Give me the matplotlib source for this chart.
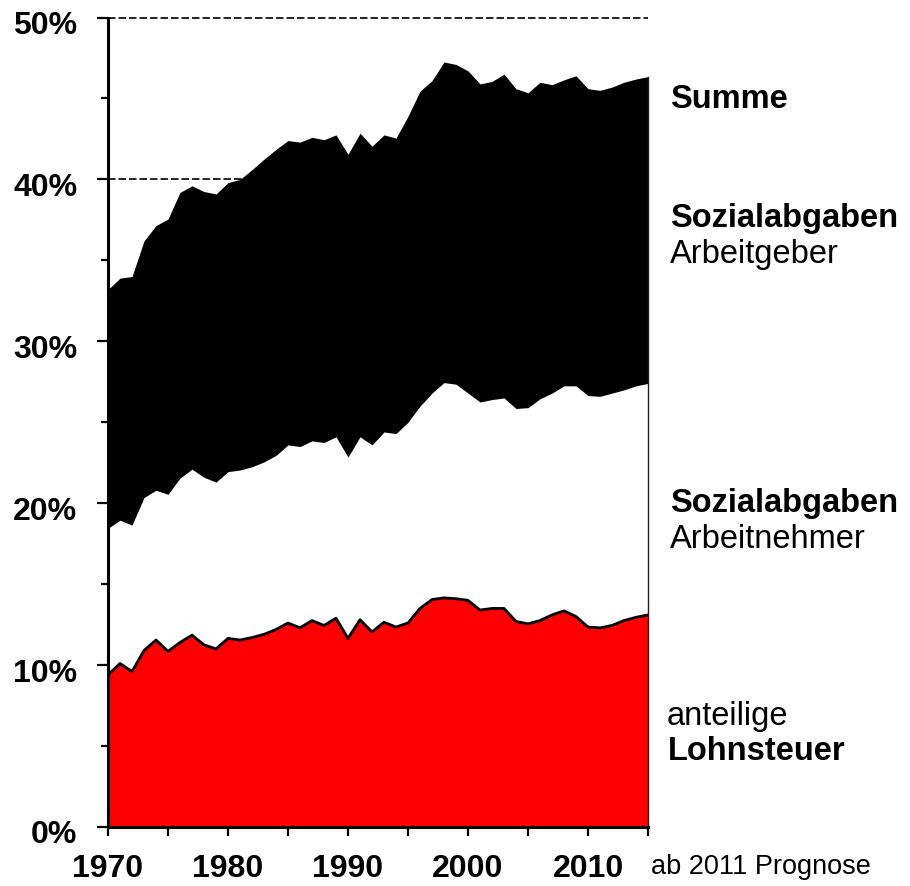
from matplotlib import pyplot as plt
import matplotlib.transforms as mtrans
import numpy as np

plt.rcParams['font.family'] = ['Liberation Sans', 'DejaVu Sans']

# Jahre und Anteile in Prozent (kumuliert, von unten nach oben)
jahre = np.arange(1970, 2016)

lohnsteuer = [9.4, 10.1, 9.6, 10.9, 11.55, 10.85, 11.4, 11.85, 11.25, 11.0,
              11.65, 11.55, 11.7, 11.9, 12.2, 12.6, 12.3, 12.75, 12.45, 12.9,
              11.65, 12.8, 12.05, 12.65, 12.35, 12.6, 13.5, 14.05, 14.15, 14.1,
              14.0, 13.4, 13.5, 13.5, 12.7, 12.55, 12.75, 13.1, 13.35, 13.0,
              12.35, 12.3, 12.45, 12.75, 12.95, 13.1]

bis_arbeitnehmer = [18.45, 18.95, 18.65, 20.35, 20.8, 20.55, 21.55, 22.1, 21.6, 21.3,
                    21.95, 22.05, 22.25, 22.55, 22.95, 23.6, 23.5, 23.85, 23.75, 24.1,
                    22.85, 24.1, 23.6, 24.4, 24.3, 25.0, 26.0, 26.8, 27.45, 27.35,
                    26.8, 26.25, 26.4, 26.5, 25.85, 25.9, 26.45, 26.8, 27.25, 27.25,
                    26.65, 26.6, 26.8, 27.0, 27.25, 27.4]

summe = [33.2, 33.9, 34.0, 36.2, 37.15, 37.55, 39.2, 39.6, 39.25, 39.1,
         39.8, 40.0, 40.6, 41.25, 41.85, 42.4, 42.3, 42.6, 42.45, 42.75,
         41.55, 42.85, 42.05, 42.75, 42.55, 43.9, 45.45, 46.1, 47.25, 47.1,
         46.7, 45.9, 46.05, 46.5, 45.6, 45.35, 46.0, 45.85, 46.15, 46.4,
         45.6, 45.5, 45.7, 46.0, 46.2, 46.35]

y_ticks = [0, 10, 20, 30, 40, 50]
x_labels = ['1970', '1980', '1990', '2000', '2010']

W, H = 910, 887
fig = plt.figure(figsize=(W / 100, H / 100), dpi=100)
ax = fig.add_axes([108 / W, 1 - 828 / H, 540 / W, (828 - 18.5) / H])

# Flaechen
ax.fill_between(jahre, 0, lohnsteuer, color='#ff0000', lw=0, zorder=1)
ax.fill_between(jahre, lohnsteuer, bis_arbeitnehmer, color='white', lw=0, zorder=1)
ax.fill_between(jahre, bis_arbeitnehmer, summe, color='black', lw=0, zorder=1)
ax.plot(jahre, lohnsteuer, color='black', lw=2.0, zorder=2)
ax.plot([jahre[-1], jahre[-1]], [0, summe[-1]], color='#222222', lw=1.0,
        zorder=2, clip_on=False)

# gestrichelte Hilfslinien hinter den Flaechen
for v in y_ticks[1:]:
    ax.axhline(v, color='black', lw=1.2, ls=(0, (4.5, 1.8)), zorder=0.5,
               clip_on=False)

ax.set_xlim(1970, 2015)
ax.set_ylim(0, 50)

for s in ['top', 'right']:
    ax.spines[s].set_visible(False)
for s in ['left', 'bottom']:
    ax.spines[s].set_linewidth(2.2)
    ax.spines[s].set_zorder(3)

ax.set_yticks(y_ticks)
ax.set_yticklabels([f'{v}%' for v in y_ticks], fontsize=23, fontweight='bold')
ax.set_yticks([5, 15, 25, 35, 45], minor=True)
ax.tick_params(axis='y', which='major', length=8, width=1.6, pad=14)
ax.tick_params(axis='y', which='minor', length=5, width=1.6)
verschiebung = mtrans.ScaledTranslation(0, -4 / 100, fig.dpi_scale_trans)
for lab in ax.get_yticklabels():
    lab.set_transform(lab.get_transform() + verschiebung)

ax.set_xticks(range(1970, 2011, 10))
ax.set_xticklabels(x_labels, fontsize=23, fontweight='bold')
ax.set_xticks(range(1975, 2016, 10), minor=True)
ax.tick_params(axis='x', which='both', length=6.5, width=1.6, pad=12)

# Beschriftungen rechts
def txt(x, y, s, bold=False, size=23.5):
    fig.text(x / W, 1 - y / H, s, fontsize=size, va='baseline', ha='left',
             fontweight='bold' if bold else 'normal')

txt(670, 108, 'Summe', bold=True)
txt(670, 227, 'Sozialabgaben', bold=True)
txt(670, 263, 'Arbeitgeber')
txt(670, 512, 'Sozialabgaben', bold=True)
txt(670, 548, 'Arbeitnehmer')
txt(667, 725, 'anteilige')
txt(668, 760, 'Lohnsteuer', bold=True)
txt(651, 874, 'ab 2011 Prognose', size=19.5)

fig.savefig('out.png', dpi=100)
